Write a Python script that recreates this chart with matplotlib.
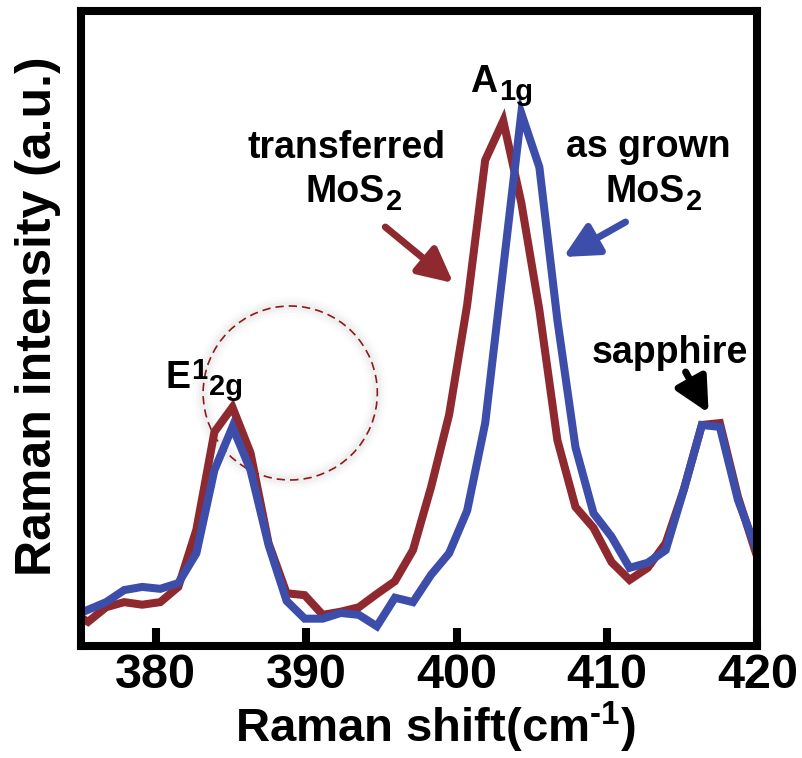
import matplotlib
matplotlib.use("Agg")
import matplotlib.pyplot as plt
from matplotlib.patches import Ellipse

plt.rcParams['font.family'] = ['Liberation Sans', 'DejaVu Sans']
plt.rcParams['font.weight'] = 'bold'
plt.rcParams['mathtext.fontset'] = 'custom'
plt.rcParams['mathtext.rm'] = 'Liberation Sans:bold'
plt.rcParams['mathtext.bf'] = 'Liberation Sans:bold'
plt.rcParams['mathtext.it'] = 'Liberation Sans:bold'
plt.rcParams['mathtext.default'] = 'bf'

# Raman shift (cm^-1)
shift = [374.3, 375.5, 376.7, 377.9, 379.1, 380.3, 381.5, 382.7, 383.9, 385.1,
         386.3, 387.5, 388.7, 389.9, 391.1, 392.3, 393.5, 394.7, 395.9, 397.1,
         398.3, 399.5, 400.7, 401.9, 403.1, 404.3, 405.5, 406.7, 407.9, 409.1,
         410.3, 411.5, 412.7, 413.9, 415.1, 416.3, 417.5, 418.7, 419.9, 421.1]

# Raman intensity (a.u.)
transferred = [55, 38, 61, 69, 65, 69, 93, 183, 337, 376,
               304, 162, 83, 80, 49, 54, 61, 82, 102, 151,
               250, 364, 537, 765, 827, 698, 529, 324, 219, 186,
               132, 104, 123, 162, 246, 348, 351, 235, 146, 72]
as_grown = [45, 57, 69, 88, 93, 90, 99, 146, 277, 345,
            277, 159, 71, 43, 43, 52, 49, 31, 76, 69,
            112, 146, 213, 351, 595, 839, 754, 513, 313, 209,
            172, 123, 131, 151, 246, 348, 345, 230, 154, 88]

xticks = [380, 390, 400, 410, 420]

red = '#8E2930'
blue = '#3D4DAA'

fig = plt.figure(figsize=(8.02, 7.58), dpi=100)
ax = fig.add_axes([0.1004, 0.1478, 0.8441, 0.8377])

ax.plot(shift, transferred, color=red, lw=5.8, solid_joinstyle='miter', zorder=3)
ax.plot(shift, as_grown, color=blue, lw=5.8, solid_joinstyle='miter', zorder=4)

ax.set_xlim(375, 420)
ax.set_ylim(0, 1000)
ax.set_xticks(xticks)
ax.set_yticks([])
ax.tick_params(axis='x', direction='in', length=13, width=5.8, pad=5,
               labelsize=35, top=False)
for s in ax.spines.values():
    s.set_linewidth(5.8)
    s.set_color('black')
    s.set_zorder(6)

ax.set_xlabel(r'Raman shift(cm$^{\text{-}1}$)', fontsize=34, fontweight='bold', va='center')
ax.xaxis.set_label_coords(0.5236, -0.129)
ax.set_ylabel('Raman intensity (a.u.)', fontsize=36, fontweight='bold', va='center')
ax.yaxis.set_label_coords(-0.063, 0.52)

# highlight ring around the E2g peak, with a soft halo
for w, a in [(14, 0.025), (10, 0.035), (6, 0.05)]:
    ax.add_patch(Ellipse((388.94, 398.4), 11.58, 274, fill=False,
                         edgecolor='gray', lw=w, alpha=a, zorder=1))
ax.add_patch(Ellipse((388.94, 398.4), 11.58, 274, fill=False,
                     edgecolor='#8B1A1A', lw=1.2, linestyle=(0, (5, 3)), zorder=2))

BASE = 27
SMALL = 21
tk = dict(fontsize=BASE, fontweight='bold', va='baseline', zorder=7)


def attach(parent, s, dy):
    """Place a smaller text right after `parent`, dy points from its bbox bottom."""
    return ax.annotate(s, xy=(1, 0), xycoords=parent, xytext=(1, dy),
                       textcoords='offset points', fontsize=SMALL,
                       fontweight='bold', ha='left', va='baseline', zorder=7)


ax.text(392.67, 768.5, 'transferred', ha='center', **tk)
ax.text(412.76, 770.0, 'as grown', ha='center', **tk)
ax.text(414.15, 445.7, 'sapphire', ha='center', **tk)

m1 = ax.text(389.94, 699.2, 'MoS', ha='left', **tk)
attach(m1, '2', 0.0)
m2 = ax.text(409.90, 699.2, 'MoS', ha='left', **tk)
attach(m2, '2', 0.0)
a1 = ax.text(400.91, 872.4, 'A', ha='left', **tk)
attach(a1, '1g', 0.0)
e1 = ax.text(380.62, 406.3, 'E', ha='left', **tk)
one = attach(e1, '1', 12.5)
attach(one, '2g', -7.5)

ap = dict(arrowstyle='-|>', mutation_scale=52, lw=5, shrinkA=0, shrinkB=0)
ax.annotate('', xy=(399.78, 571.6), xytext=(395.26, 659.8),
            arrowprops=dict(color=red, **ap), zorder=7)
ax.annotate('', xy=(407.10, 612.6), xytext=(411.23, 667.7),
            arrowprops=dict(color=blue, **ap), zorder=7)
ax.annotate('', xy=(416.75, 366.9), xytext=(415.22, 431.5),
            arrowprops=dict(color='black', **ap), zorder=7)

fig.savefig('out.png', dpi=100)
